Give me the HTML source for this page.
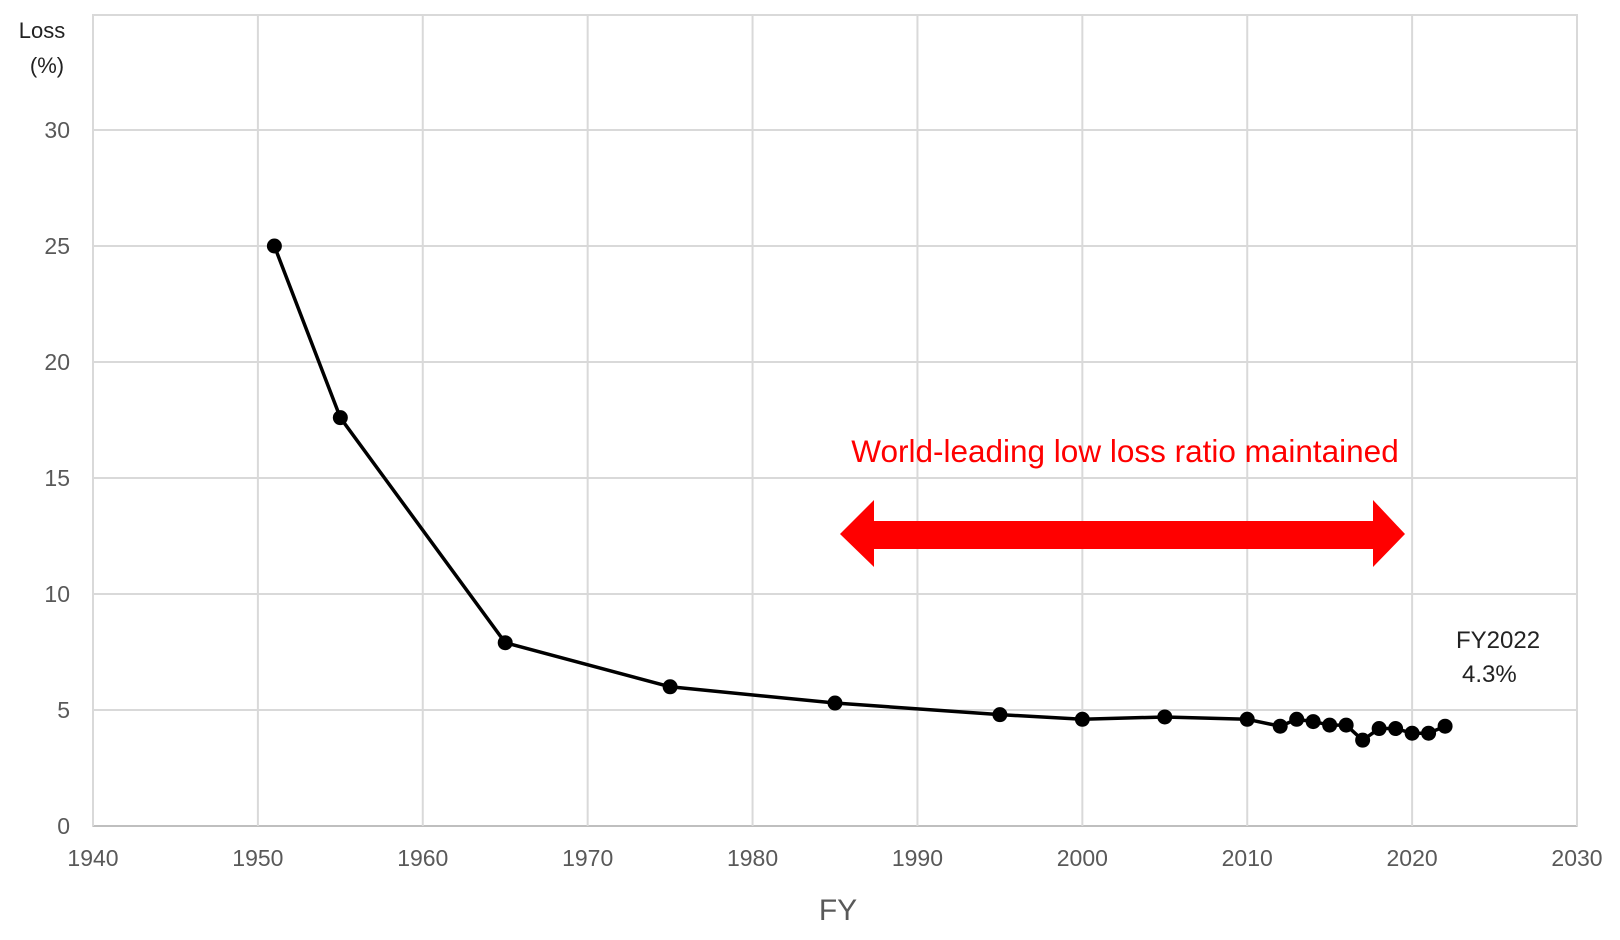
<!DOCTYPE html>
<html><head><meta charset="utf-8"><style>
body{margin:0;background:#fff;}
svg{display:block;font-family:"Liberation Sans",sans-serif;}
</style></head><body>
<svg id="chart" width="1620" height="940">
<g id="grid"></g>
<g id="yticks"></g>
<g id="xticks"></g>
<text x="42" y="38" font-size="22" fill="#222" text-anchor="middle">Loss</text>
<text x="47" y="73" font-size="22" fill="#222" text-anchor="middle">(%)</text>
<text x="838" y="920" font-size="30" fill="#595959" text-anchor="middle">FY</text>
<text x="1125" y="462" font-size="31.5" fill="#ff0000" text-anchor="middle">World-leading low loss ratio maintained</text>
<polygon fill="#ff0000" points="840,534 874,500 874,521 1373,521 1373,500 1405,534 1373,567 1373,549 874,549 874,567"/>
<text x="1456" y="648" font-size="24" fill="#222">FY2022</text>
<text x="1462" y="682" font-size="24" fill="#222">4.3%</text>
<g id="series"></g>
</svg>
<script>
const years=[1951,1955,1965,1975,1985,1995,2000,2005,2010,2012,2013,2014,2015,2016,2017,2018,2019,2020,2021,2022];
const losses=[25,17.6,7.9,6.0,5.3,4.8,4.6,4.7,4.6,4.3,4.6,4.5,4.35,4.35,3.7,4.2,4.2,4.0,4.0,4.3];
const xTicks=[1940,1950,1960,1970,1980,1990,2000,2010,2020,2030];
const yTicks=[0,5,10,15,20,25,30];
const L=93,R=1577,T=15,B=826;
const x=v=>L+(v-1940)/90*(R-L);
const y=v=>B-v*(B-130)/30;
const NS="http://www.w3.org/2000/svg";
function mk(tag,attrs,parent){const e=document.createElementNS(NS,tag);for(const k in attrs)e.setAttribute(k,attrs[k]);parent.appendChild(e);return e;}
const grid=document.getElementById('grid'),yt=document.getElementById('yticks'),xt=document.getElementById('xticks'),s=document.getElementById('series');
let r=mk('rect',{x:L,y:T,width:R-L,height:B-T,fill:'none',stroke:'#d9d9d9','stroke-width':2},grid);


yTicks.forEach(v=>{
 const l=mk('line',{x1:L,x2:R,y1:y(v),y2:y(v),stroke:v===0?'#bfbfbf':'#d9d9d9','stroke-width':2},grid);
 
 
 const t=mk('text',{x:70,y:y(v)+8,'font-size':23,fill:'#595959','text-anchor':'end'},yt);
 t.textContent=v;
 
 
});
xTicks.forEach(v=>{
 const l=mk('line',{x1:x(v),x2:x(v),y1:T,y2:B,stroke:'#d9d9d9','stroke-width':2},grid);
 
 
 const t=mk('text',{x:x(v),y:866,'font-size':23,fill:'#595959','text-anchor':'middle'},xt);
 t.textContent=v;
 
 
});
const p=mk('polyline',{points:years.map((v,i)=>x(v)+','+y(losses[i])).join(' '),fill:'none',stroke:'#000','stroke-width':3.5,'stroke-linejoin':'round'},s);


years.forEach((v,i)=>{
 const c=mk('circle',{cx:x(v),cy:y(losses[i]),r:7.5,fill:'#000'},s);
 
 
});
</script>
</body></html>
